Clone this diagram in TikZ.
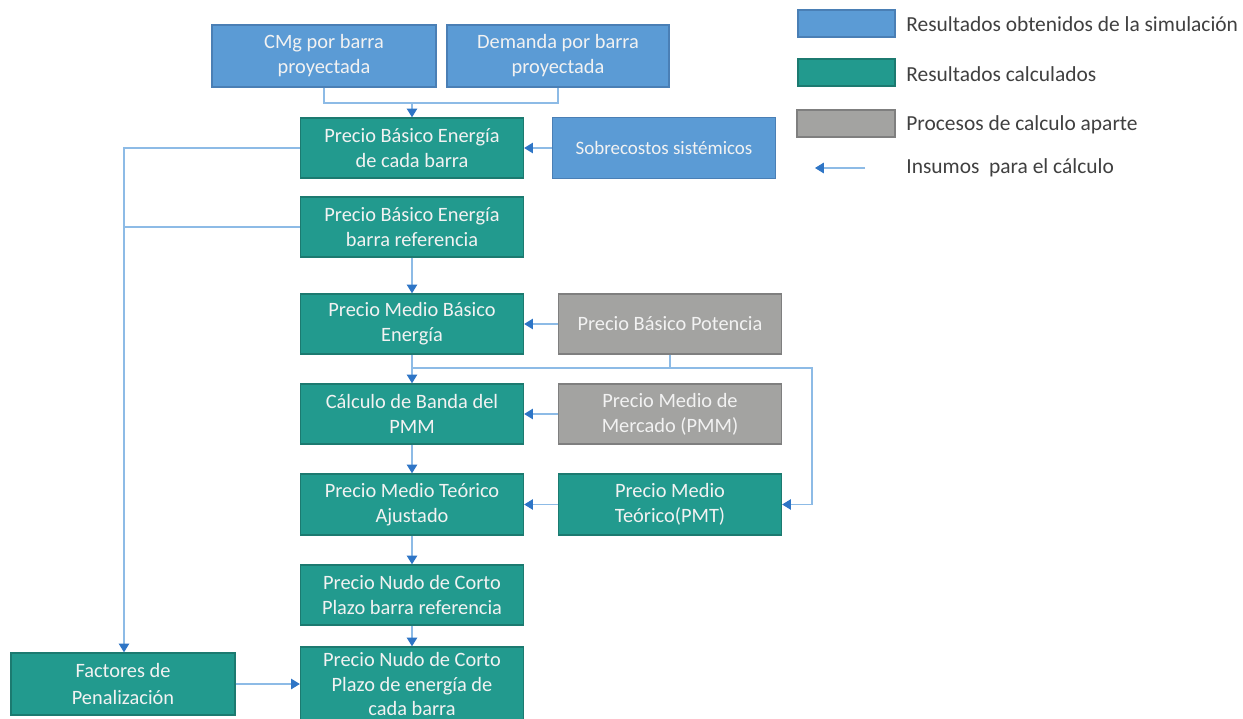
\documentclass[tikz,border=0pt]{standalone}
\usepackage{fontspec}
\setmainfont{Carlito}
\usetikzlibrary{arrows.meta}
\definecolor{simblue}{HTML}{5B9BD5}
\definecolor{simbord}{HTML}{4A7FB5}
\definecolor{calcteal}{HTML}{229A8E}
\definecolor{calcbord}{HTML}{1C7A70}
\definecolor{procgray}{HTML}{A3A3A1}
\definecolor{procbord}{HTML}{7F7F7F}
\definecolor{conn}{HTML}{8DBBE6}
\definecolor{tipc}{HTML}{2E75C6}
\definecolor{legtext}{HTML}{404040}
\definecolor{boxtext}{HTML}{F2F2F2}
\tikzset{
  x=0.02cm, y=-0.02cm,
  boxbase/.style={rectangle, draw, line width=0.8pt, text=boxtext, align=center,
    font=\fontsize{11.6}{14.2}\selectfont, inner sep=2pt},
  simbox/.style={boxbase, fill=simblue, draw=simbord},
  calcbox/.style={boxbase, fill=calcteal, draw=calcbord},
  procbox/.style={boxbase, fill=procgray, draw=procbord},
  stdsize/.style={minimum width=4.46cm, minimum height=1.2cm},
  link/.style={draw=conn, line width=0.6pt},
  flow/.style={link, -{Triangle[width=6pt,length=5pt,color=tipc]}},
  legtxt/.style={anchor=west, text=legtext, font=\fontsize{12.2}{14}\selectfont, inner sep=0pt},
}
\begin{document}
\begin{tikzpicture}
\clip (0,0) rectangle (1243,719);
\fill[white] (0,0) rectangle (1243,719);

% nodes
\node[simbox, minimum width=4.48cm, minimum height=1.24cm] (cmg) at (324,56) {CMg por barra\\proyectada};
\node[simbox, minimum width=4.44cm, minimum height=1.24cm] (dem) at (558,56) {Demanda por barra\\proyectada};
\node[calcbox, stdsize] (pbe) at (412,148) {Precio Básico Energía\\de cada barra};
\node[simbox, minimum width=4.46cm, minimum height=1.22cm, font=\fontsize{10.8}{13}\selectfont] (sob) at (664,148) {Sobrecostos sistémicos};
\node[calcbox, stdsize] (pber) at (412,227) {Precio Básico Energía\\barra referencia};
\node[calcbox, stdsize] (pmbe) at (412,324) {Precio Medio Básico\\Energía};
\node[procbox, stdsize] (pbp) at (670,324) {Precio Básico Potencia};
\node[calcbox, stdsize] (cb) at (412,414) {Cálculo de Banda del\\PMM};
\node[procbox, stdsize] (pmm) at (670,414) {Precio Medio de\\Mercado (PMM)};
\node[calcbox, stdsize, minimum height=1.22cm] (pmta) at (412,504.5) {Precio Medio Teórico\\Ajustado};
\node[calcbox, stdsize, minimum height=1.22cm] (pmt) at (670,504.5) {Precio Medio\\Teórico(PMT)};
\node[calcbox, stdsize] (pncr) at (412,595) {Precio Nudo de Corto\\Plazo barra referencia};
\node[calcbox, stdsize, minimum height=1.48cm] (pncb) at (412,684) {Precio Nudo de Corto\\Plazo de energía de\\cada barra};
\node[calcbox, minimum width=4.48cm, minimum height=1.24cm, font=\fontsize{11.6}{15.5}\selectfont] (fac) at (123,684) {Factores de\\Penalización};

% connectors
\coordinate (j1) at (412,103);
\draw[link] (cmg.south) |- (j1) -| (dem.south);
\draw[flow] (j1) -- (pbe.north);
\draw[flow] (sob.west) -- (pbe.east);
\coordinate (lft) at (124,148);
\draw[flow] (pbe.west) -- (lft) -- (lft |- fac.north);
\draw[link] (pber.west) -- (lft |- pber.west);
\draw[flow] (pber.south) -- (pmbe.north);
\draw[flow] (pbp.west) -- (pmbe.east);
\draw[flow] (pmbe.south) -- (cb.north);
\coordinate (j2) at (412,368);
\coordinate (rgt) at (812,368);
\draw[link] (pbp.south) -- (pbp.south |- j2);
\draw[flow] (j2) -- (rgt) -- (rgt |- pmt.east) -- (pmt.east);
\draw[flow] (pmm.west) -- (cb.east);
\draw[flow] (cb.south) -- (pmta.north);
\draw[flow] (pmt.west) -- (pmta.east);
\draw[flow] (pmta.south) -- (pncr.north);
\draw[flow] (pncr.south) -- (pncb.north);
\draw[flow] (fac.east) -- (pncb.west);

% legend
\node[simbox, minimum width=1.94cm, minimum height=0.54cm] (l1) at (846.5,23.5) {};
\node[calcbox, minimum width=1.94cm, minimum height=0.54cm] (l2) at (846.5,72.5) {};
\node[procbox, minimum width=1.96cm, minimum height=0.54cm] (l3) at (846,123.5) {};
\coordinate (la) at (865,168);
\coordinate (lb) at (815,168);
\draw[flow] (la) -- (lb);
\node[legtxt] (t1) at (906,24) {Resultados obtenidos de la simulación};
\node[legtxt] (t2) at (906,74) {Resultados calculados};
\node[legtxt] (t3) at (906,125) {Procesos de calculo aparte};
\node[legtxt] (t4) at (906,168) {Insumos\ \ para el cálculo};
\end{tikzpicture}
\end{document}
